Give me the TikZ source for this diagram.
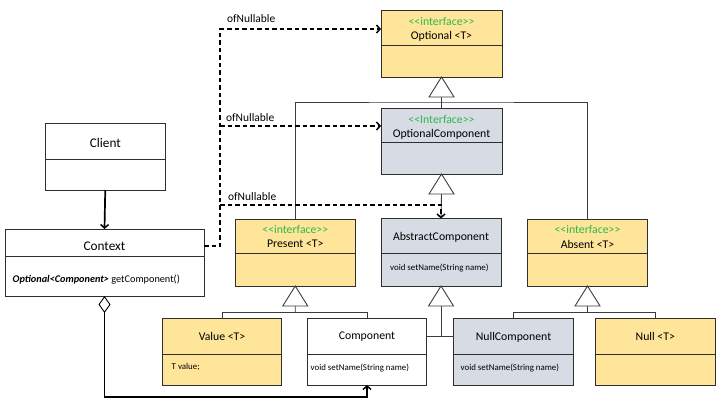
\documentclass[tikz,border=0pt]{standalone}
\usepackage{fontspec}
\setmainfont{Carlito}[Ligatures=TeXOff]
\usetikzlibrary{arrows.meta,calc}
\definecolor{ifyellow}{HTML}{FFE599}
\definecolor{ifgray}{HTML}{D6DBE4}
\definecolor{stereogreen}{HTML}{2DB84D}
\definecolor{boxline}{HTML}{2E2E2E}
\definecolor{genline}{HTML}{3C3C3C}

% class box: name, x1, y1, x2, y2, y of compartment line, fill colour
\newcommand\classbox[7]{%
  \node[cls, fill=#7, minimum width={(#4-#2)*1bp}, minimum height={(#5-#3)*1bp}] (#1) at (#2,#3) {};
  \draw[clsline] (#2,#6) -- (#4,#6);
}
% hollow generalization triangle hanging under a class
\newcommand\gentri[1]{%
  \draw[tri] (#1.south) -- ++(-12.5,20) -- ++(25,0) -- cycle;
}

\begin{document}
\begin{tikzpicture}[x=1bp,y=-1bp,
  cls/.style={draw=boxline, line width=0.9bp, inner sep=0pt, outer sep=0pt, anchor=north west},
  clsline/.style={draw=boxline, line width=0.9bp},
  ttl/.style={font=\fontsize{11.8}{13}\selectfont, inner sep=0pt},
  bigttl/.style={font=\fontsize{13.3}{15}\selectfont, inner sep=0pt},
  stereo/.style={ttl, text=stereogreen},
  body/.style={font=\fontsize{8.9}{10}\selectfont, inner sep=0pt, anchor=west},
  lbl/.style={font=\fontsize{11.5}{13}\selectfont, inner sep=0pt, anchor=west},
  gen/.style={draw=genline, line width=0.9bp},
  tri/.style={gen, fill=white, line join=miter},
  nullarrow/.style={draw=black, dash pattern=on 4.5bp off 3bp, line width=1.8bp,
    -{Straight Barb[length=3.5bp,width=8bp,line width=1.5bp]}},
  assoc/.style={draw=black, line width=1.7bp, -{Straight Barb[length=3.5bp,width=8bp,line width=1.5bp]}},
  agg/.style={draw=black, line width=1.7bp,
    {Diamond[open,fill=white,length=17bp,width=12bp,line width=0.9bp]}-{Straight Barb[length=3.5bp,width=8bp,line width=1.5bp]}},
]
\useasboundingbox[fill=white] (0,0) rectangle (720,405);

% ---- classes ----
\classbox{opt}{381}{10}{502}{77}{45}{ifyellow}
\node[stereo] (opt-s) at (441.5,21.5) {<<interface>>};
\node[ttl] (opt-t) at (441.5,36) {Optional <T>};

\classbox{ocomp}{381}{108}{502}{174}{142.5}{ifgray}
\node[stereo] (ocomp-s) at (441.5,119.5) {<<Interface>>};
\node[ttl] (ocomp-t) at (441.5,134) {OptionalComponent};

\classbox{client}{45.5}{123}{165}{190}{159}{white}
\node[bigttl] (client-t) at (105.3,142.5) {Client};

\classbox{ctx}{5}{229}{204}{296}{256}{white}
\node[bigttl] (ctx-t) at (104.5,246.5) {Context};
\node[body, font=\fontsize{10.3}{12}\selectfont] (ctx-b) at (12.5,280) {\textbf{\textit{Optional<Component>}} getComponent()};

\classbox{pres}{235.5}{219}{355}{286}{253}{ifyellow}
\node[stereo] (pres-s) at (295.3,229.5) {<<interface>>};
\node[ttl] (pres-t) at (295.3,244) {Present <T>};

\classbox{abc}{381}{218.5}{501}{286}{253.5}{ifgray}
\node[ttl] (abc-t) at (441,237.5) {AbstractComponent};
\node[body] (abc-b) at (390,268.5) {void setName(String name)};

\classbox{absn}{527.5}{219}{647.5}{286}{253}{ifyellow}
\node[stereo] (absn-s) at (587.5,229.5) {<<interface>>};
\node[ttl] (absn-t) at (587.5,244) {Absent <T>};

\classbox{val}{162.5}{318}{281.5}{385}{354}{ifyellow}
\node[ttl] (val-t) at (222,336.5) {Value <T>};
\node[body] (val-b) at (171.5,366.5) {T value;};

\classbox{comp}{307.5}{318}{426.5}{385}{354}{white}
\node[ttl] (comp-t) at (367,336.5) {Component};
\node[body] (comp-b) at (310.5,368) {void setName(String name)};

\classbox{nullc}{453.5}{318}{573.5}{385}{354}{ifgray}
\node[ttl] (nullc-t) at (513.5,337) {NullComponent};
\node[body] (nullc-b) at (460.5,368) {void setName(String name)};

\classbox{nullt}{595.5}{318}{715}{385}{354}{ifyellow}
\node[ttl] (nullt-t) at (655.3,336.5) {Null <T>};

% ---- generalizations ----
\coordinate (optbar) at (441.5,102);
\draw[gen] ($(opt.south)+(0,20)$) -- (ocomp.north);
\draw[gen] (pres.north) |- (optbar) -| (absn.north);

\draw[gen] ($(ocomp.south)+(0,20)$) -- (abc.north);

\coordinate (presbar) at (295.3,312.5);
\draw[gen] ($(pres.south)+(0,20)$) -- (presbar);
\draw[gen] (val.north) |- (presbar) -| (comp.north);

\coordinate (abcbar) at (441,336);
\draw[gen] ($(abc.south)+(0,20)$) -- (abcbar);
\draw[gen] (comp.east |- abcbar) -- (nullc.west |- abcbar);

\coordinate (absbar) at (587.5,312.5);
\draw[gen] ($(absn.south)+(0,20)$) -- (absbar);
\draw[gen] (nullc.north) |- (absbar) -| (nullt.north);

\gentri{opt}
\gentri{ocomp}
\gentri{pres}
\gentri{abc}
\gentri{absn}

% ---- associations ----
\draw[assoc] (client.south) -- (ctx.north);
\draw[agg] (ctx.south) -- ++(0,101) -| (comp.south);

% ---- ofNullable dependencies ----
\coordinate (hub) at (220,246);
\coordinate (hub2) at (220,126);
\coordinate (hub3) at (220,205);
\draw[nullarrow] (ctx.east |- hub) -- (hub) |- ($(opt.north west)+(0,19)$);
\draw[nullarrow] (hub2) -- (ocomp.west |- hub2);
\draw[nullarrow] (hub3) -| (abc.north);

\node[lbl] (lab1) at (227,18.5) {ofNullable};
\node[lbl] (lab2) at (226,117.5) {ofNullable};
\node[lbl] (lab3) at (228,196.5) {ofNullable};
\end{tikzpicture}
\end{document}
